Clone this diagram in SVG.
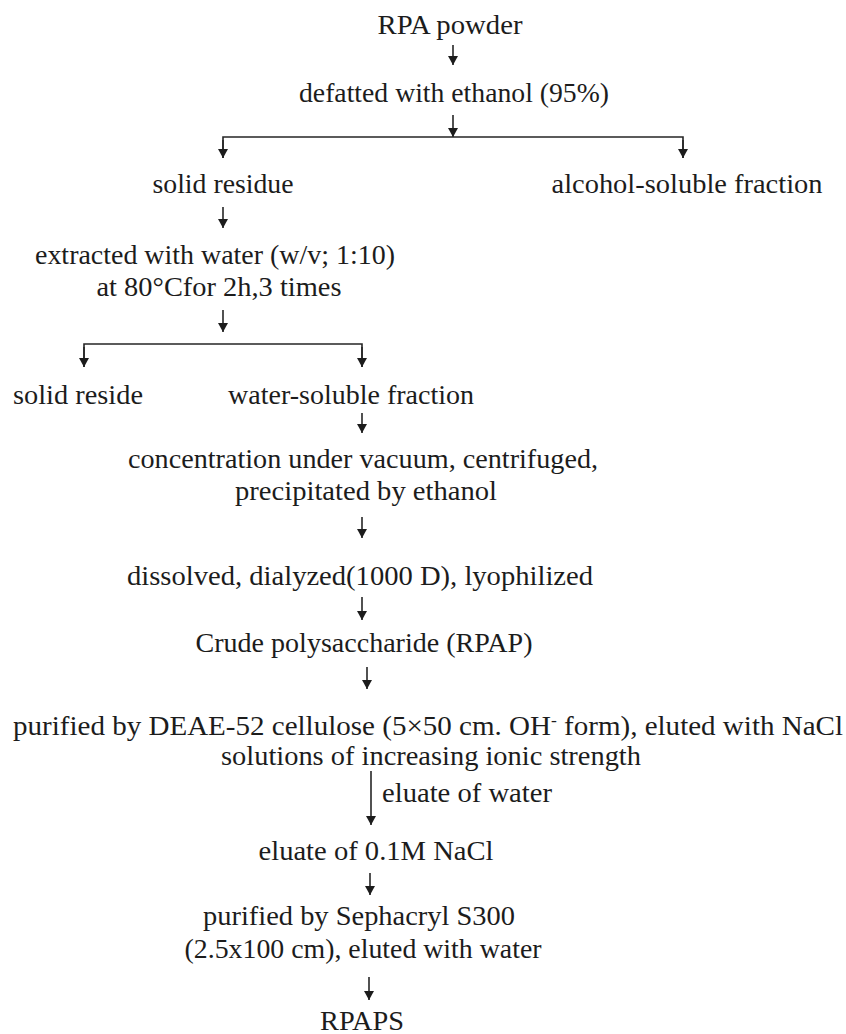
<svg xmlns="http://www.w3.org/2000/svg" width="846" height="1034" viewBox="0 0 846 1034">
<style>
  text { font-family: "Liberation Serif", "Times New Roman", serif; font-size: 26.5px; fill: #1c1c1c; }
  .c { text-anchor: middle; }
  .ln { stroke: #262626; stroke-width: 1.6; fill: none; }
  .ar { marker-end: url(#ah); }
</style>
<defs>
  <marker id="ah" viewBox="0 0 9 10" refX="9" refY="5" markerWidth="9" markerHeight="10" markerUnits="userSpaceOnUse" orient="auto">
    <path d="M0,0 L9,5 L0,10 z" fill="#1c1c1c"/>
  </marker>
</defs>
<rect width="846" height="1034" fill="#ffffff"/>

<g id="connectors">
  <line class="ln ar" x1="453" y1="45" x2="453" y2="65"/>
  <line class="ln ar" x1="453" y1="115" x2="453" y2="137"/>
  <polyline class="ln" points="223,158 223,137 683,137 683,158"/>
  <line class="ln ar" x1="223" y1="140" x2="223" y2="158"/>
  <line class="ln ar" x1="683" y1="140" x2="683" y2="158"/>
  <line class="ln ar" x1="223" y1="207" x2="223" y2="228"/>
  <line class="ln ar" x1="223" y1="310" x2="223" y2="332"/>
  <polyline class="ln" points="84,367 84,344 362,344 362,367"/>
  <line class="ln ar" x1="84" y1="347" x2="84" y2="367"/>
  <line class="ln ar" x1="362" y1="347" x2="362" y2="367"/>
  <line class="ln ar" x1="362" y1="413" x2="362" y2="433"/>
  <line class="ln ar" x1="362" y1="517" x2="362" y2="538"/>
  <line class="ln ar" x1="362" y1="597" x2="362" y2="620"/>
  <line class="ln ar" x1="367" y1="667" x2="367" y2="689"/>
  <line class="ln ar" x1="371" y1="771" x2="371" y2="825"/>
  <line class="ln ar" x1="370" y1="873" x2="370" y2="895"/>
  <line class="ln ar" x1="369" y1="977" x2="369" y2="1000"/>
</g>

<g id="n-rpa-powder"><text class="c" x="450" y="34" textLength="145" lengthAdjust="spacingAndGlyphs">RPA powder</text></g>
<g id="n-defatted"><text class="c" x="454" y="102" textLength="310" lengthAdjust="spacingAndGlyphs">defatted with ethanol (95%)</text></g>
<g id="n-solid-residue"><text class="c" x="223" y="193" textLength="141" lengthAdjust="spacingAndGlyphs">solid residue</text></g>
<g id="n-alcohol-soluble"><text class="c" x="687" y="193" textLength="271" lengthAdjust="spacingAndGlyphs">alcohol-soluble fraction</text></g>
<g id="n-extracted">
  <text class="c" x="215" y="264" textLength="360" lengthAdjust="spacingAndGlyphs">extracted with water (w/v; 1:10)</text>
  <text class="c" x="219" y="296" textLength="245" lengthAdjust="spacingAndGlyphs">at 80°Cfor 2h,3 times</text>
</g>
<g id="n-solid-reside"><text class="c" x="78" y="404" textLength="130" lengthAdjust="spacingAndGlyphs">solid reside</text></g>
<g id="n-water-soluble"><text class="c" x="351" y="404" textLength="246" lengthAdjust="spacingAndGlyphs">water-soluble fraction</text></g>
<g id="n-concentration">
  <text class="c" x="363" y="468" textLength="470" lengthAdjust="spacingAndGlyphs">concentration under vacuum, centrifuged,</text>
  <text class="c" x="366" y="500" textLength="262" lengthAdjust="spacingAndGlyphs">precipitated by ethanol</text>
</g>
<g id="n-dissolved"><text class="c" x="360" y="585" textLength="466" lengthAdjust="spacingAndGlyphs">dissolved, dialyzed(1000 D), lyophilized</text></g>
<g id="n-crude"><text class="c" x="364" y="652" textLength="337" lengthAdjust="spacingAndGlyphs">Crude polysaccharide (RPAP)</text></g>
<g id="n-deae">
  <text class="c" x="428" y="735" textLength="830" lengthAdjust="spacingAndGlyphs">purified by DEAE-52 cellulose (5×50 cm. OH<tspan dy="-9" font-size="16">-</tspan><tspan dy="9"> form), eluted with NaCl</tspan></text>
  <text class="c" x="431" y="765" textLength="420" lengthAdjust="spacingAndGlyphs">solutions of increasing ionic strength</text>
</g>
<g id="l-eluate-water"><text x="382" y="802" textLength="170" lengthAdjust="spacingAndGlyphs">eluate of water</text></g>
<g id="n-eluate-nacl"><text class="c" x="376" y="860" textLength="235" lengthAdjust="spacingAndGlyphs">eluate of 0.1M NaCl</text></g>
<g id="n-sephacryl">
  <text class="c" x="359" y="925" textLength="312" lengthAdjust="spacingAndGlyphs">purified by Sephacryl S300</text>
  <text class="c" x="363" y="958" textLength="357" lengthAdjust="spacingAndGlyphs">(2.5x100 cm), eluted with water</text>
</g>
<g id="n-rpaps"><text class="c" x="362" y="1030" textLength="84" lengthAdjust="spacingAndGlyphs">RPAPS</text></g>
</svg>
